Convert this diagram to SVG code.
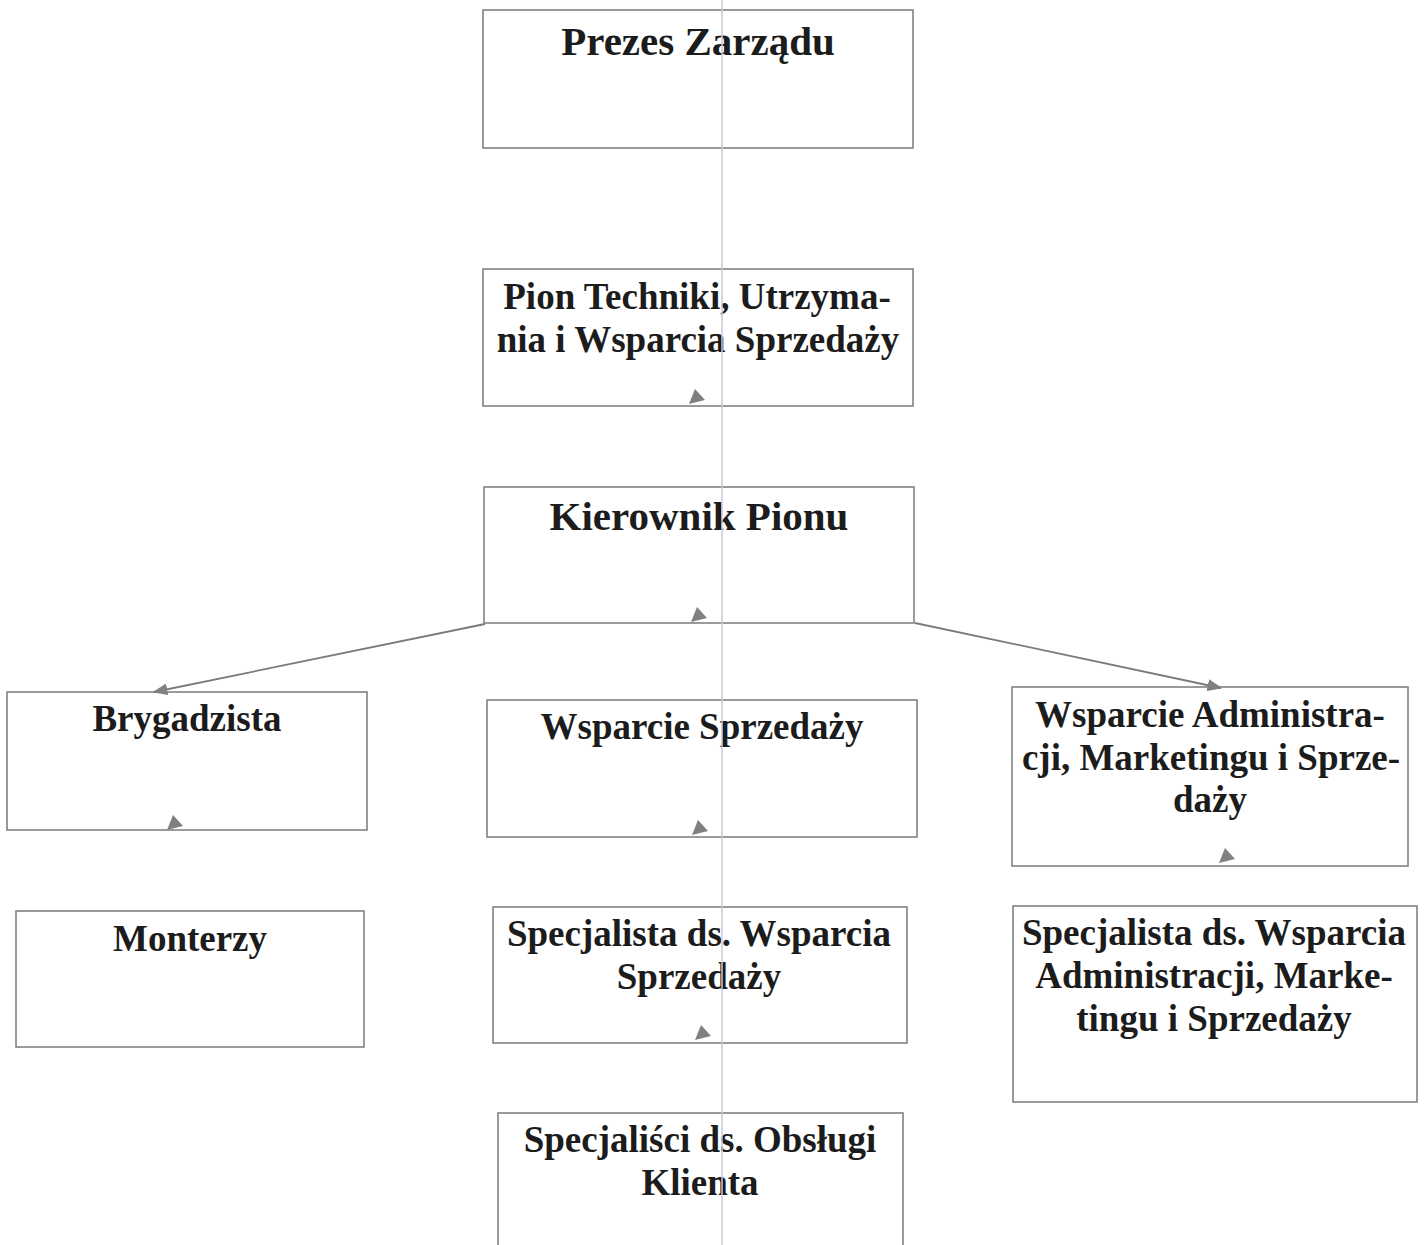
<svg xmlns="http://www.w3.org/2000/svg" width="1424" height="1245" viewBox="0 0 1424 1245">
<defs>
<style>
.box{fill:#ffffff;stroke:#7a7a7a;stroke-width:1.5}
.t{font-family:"Liberation Serif","Times New Roman",serif;font-weight:bold;fill:#1c1c1c;text-anchor:middle}
.big{font-size:41px}
.mid{font-size:37px}
.conn{stroke:#7a7a7a;stroke-width:1.8;fill:none}
.ah{fill:#808080}
</style>
<marker id="arr" viewBox="0 0 10 10" refX="9" refY="5" markerWidth="15" markerHeight="12" markerUnits="userSpaceOnUse" orient="auto" preserveAspectRatio="none">
<path d="M0,0 L10,5 L0,10 z" fill="#808080"/>
</marker>
<polygon id="tri" points="-8,6 -2,-9 8,2"/>
</defs>
<rect width="1424" height="1245" fill="#ffffff"/>

<g id="n1"><rect class="box" x="483" y="10" width="430" height="138"/>
<text class="t big" x="698" y="55">Prezes Zarządu</text></g>

<g id="n2"><rect class="box" x="483" y="269" width="430" height="137"/>
<text class="t mid" x="697" y="309">Pion Techniki, Utrzyma-</text>
<text class="t mid" x="698" y="352">nia i Wsparcia Sprzedaży</text></g>

<g id="n3"><rect class="box" x="484" y="487" width="430" height="136"/>
<text class="t big" x="699" y="530">Kierownik Pionu</text></g>

<g id="n4"><rect class="box" x="7" y="692" width="360" height="138"/>
<text class="t mid" x="187" y="731">Brygadzista</text></g>

<g id="n5"><rect class="box" x="487" y="700" width="430" height="137"/>
<text class="t mid" x="702" y="739">Wsparcie Sprzedaży</text></g>

<g id="n6"><rect class="box" x="1012" y="687" width="396" height="179"/>
<text class="t mid" x="1210" y="727">Wsparcie Administra-</text>
<text class="t mid" x="1211" y="770">cji, Marketingu i Sprze-</text>
<text class="t mid" x="1210" y="812">daży</text></g>

<g id="n7"><rect class="box" x="16" y="911" width="348" height="136"/>
<text class="t mid" x="190" y="951">Monterzy</text></g>

<g id="n8"><rect class="box" x="493" y="907" width="414" height="136"/>
<text class="t mid" x="699" y="946">Specjalista ds. Wsparcia</text>
<text class="t mid" x="699" y="989">Sprzedaży</text></g>

<g id="n9"><rect class="box" x="1013" y="906" width="404" height="196"/>
<text class="t mid" x="1214" y="945">Specjalista ds. Wsparcia</text>
<text class="t mid" x="1214" y="988">Administracji, Marke-</text>
<text class="t mid" x="1214" y="1031">tingu i Sprzedaży</text></g>

<g id="n10"><rect class="box" x="498" y="1113" width="405" height="150"/>
<text class="t mid" x="700" y="1152">Specjaliści ds. Obsługi</text>
<text class="t mid" x="700" y="1195">Klienta</text></g>

<g id="connectors">
<line class="conn" x1="485" y1="624" x2="154" y2="692" marker-end="url(#arr)"/>
<line class="conn" x1="915" y1="623" x2="1221" y2="688" marker-end="url(#arr)"/>
<use href="#tri" class="ah" x="697" y="398"/>
<use href="#tri" class="ah" x="699" y="616"/>
<use href="#tri" class="ah" x="175" y="824"/>
<use href="#tri" class="ah" x="700" y="829"/>
<use href="#tri" class="ah" x="1227" y="857"/>
<use href="#tri" class="ah" x="703" y="1034"/>
</g>

<line x1="722" y1="0" x2="722" y2="1245" stroke="#c9c9dd" stroke-width="1.5"/>
</svg>
